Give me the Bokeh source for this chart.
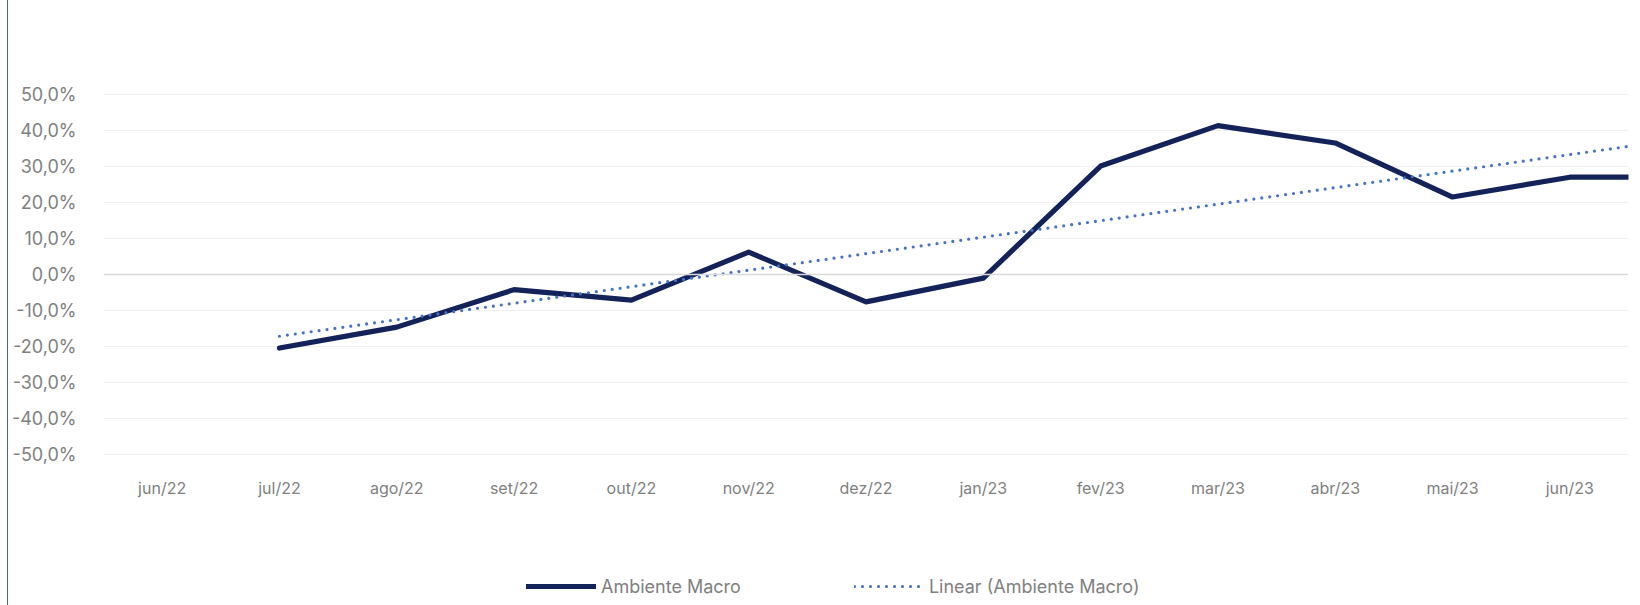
import numpy as np
from bokeh.plotting import figure
from bokeh.layouts import column
from bokeh.models import (ColumnDataSource, FixedTicker, Legend, LegendItem,
                          Span, Range1d)
from bokeh.embed import file_html
from bokeh.resources import INLINE

# ---- data ----
months = ["jun/22", "jul/22", "ago/22", "set/22", "out/22", "nov/22", "dez/22",
          "jan/23", "fev/23", "mar/23", "abr/23", "mai/23", "jun/23", "jul/23"]
visible_months = months[:13]
ambiente_macro = [None, -20.4, -14.6, -4.2, -7.1, 6.2, -7.6, -1.0,
                  30.1, 41.3, 36.5, 21.5, 27.0, 27.0]
y_ticks = [-50, -40, -30, -20, -10, 0, 10, 20, 30, 40, 50]
y_tick_labels = ["-50,0%", "-40,0%", "-30,0%", "-20,0%", "-10,0%", "0,0%",
                 "10,0%", "20,0%", "30,0%", "40,0%", "50,0%"]
series_names = ["Ambiente Macro", "Linear (Ambiente Macro)"]

# ---- derived ----
idx = [i for i, v in enumerate(ambiente_macro) if v is not None]
vals = [ambiente_macro[i] for i in idx]
slope, intercept = np.polyfit(idx, vals, 1)
trend_x = [idx[0], idx[-1]]
trend_y = [intercept + slope * x for x in trend_x]

src = ColumnDataSource(dict(x=idx, y=vals))
tsrc = ColumnDataSource(dict(x=trend_x, y=trend_y))

FONT = "Inter"
LABEL_COLOR = "#808080"
MAIN_STYLE = dict(line_color="#13235a", line_width=5.2, line_cap="round",
                  line_join="round")
TREND_STYLE = dict(line_color="#4472c4", line_width=3.2, line_dash="0 8",
                   line_cap="round")

p = figure(width=1632, height=565, output_backend="svg", toolbar_location=None,
           x_range=Range1d(-0.5, len(visible_months) - 0.5),
           y_range=Range1d(-50.5, 50.5),
           min_border_left=95, min_border_right=12, min_border_top=92,
           min_border_bottom=109)
p.outline_line_color = None
p.background_fill_color = "white"
p.border_fill_color = "white"

# axes
p.xaxis.ticker = FixedTicker(ticks=list(range(len(visible_months))))
p.xaxis.major_label_overrides = {i: m for i, m in enumerate(visible_months)}
p.yaxis.ticker = FixedTicker(ticks=y_ticks)
p.yaxis.major_label_overrides = {t: l for t, l in zip(y_ticks, y_tick_labels)}
for ax in (p.xaxis, p.yaxis):
    ax.axis_line_color = None
    ax.major_tick_line_color = None
    ax.minor_tick_line_color = None
    ax.major_label_text_font = FONT
    ax.major_label_text_color = LABEL_COLOR
p.xaxis.major_label_text_font_size = "16px"
p.yaxis.major_label_text_font_size = "18px"
p.xaxis.major_label_standoff = 15
p.yaxis.major_label_standoff = 21

p.xgrid.grid_line_color = None
p.ygrid.ticker = FixedTicker(ticks=y_ticks)
p.ygrid.grid_line_color = "#f0f0f0"
p.ygrid.grid_line_width = 1.2

zero = Span(location=0, dimension="width", line_color="#d9d9d9", line_width=1.6)
p.add_layout(zero)

p.line("x", "y", source=src, **MAIN_STYLE)
p.line("x", "y", source=tsrc, **TREND_STYLE)

# ---- legend strip ----
pl = figure(width=1632, height=40, output_backend="svg", toolbar_location=None,
            x_range=Range1d(0, 1), y_range=Range1d(0, 1),
            min_border_left=95, min_border_right=12, min_border_top=0,
            min_border_bottom=0)
pl.axis.visible = False
pl.grid.visible = False
pl.outline_line_color = None
pl.border_fill_color = "white"
lm = pl.line(x=[np.nan], y=[np.nan], **MAIN_STYLE)
lt = pl.line(x=[np.nan], y=[np.nan], **TREND_STYLE)
legend = Legend(items=[LegendItem(label=series_names[0], renderers=[lm]),
                       LegendItem(label=series_names[1], renderers=[lt])],
                orientation="horizontal", location=(423, 8),
                glyph_width=70, glyph_height=22, label_height=22,
                label_standoff=5, spacing=113, padding=0, margin=0,
                border_line_color=None, background_fill_alpha=0,
                label_text_font=FONT, label_text_font_size="18px",
                label_text_color=LABEL_COLOR)
pl.add_layout(legend, "center")

layout = column(p, pl, spacing=0,
                styles={"border-left": "1px solid #50638a", "margin-left": "7px"})

open("out.html", "w").write(file_html(layout, INLINE))
